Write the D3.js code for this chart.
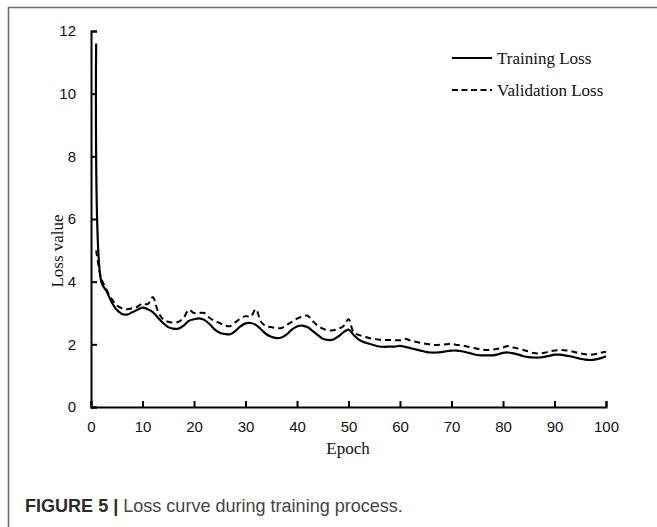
<!DOCTYPE html>
<html>
<head>
<meta charset="utf-8">
<script src="https://cdn.jsdelivr.net/npm/d3@7"></script>
<style>
  html, body { margin: 0; padding: 0; background: #fff; }
  svg { display: block; }
</style>
</head>
<body>
<svg id="chart" width="657" height="527"></svg>
<script>
// ---- data ----
const epochs = d3.range(1, 101);
const trainingLoss = [
  11.6, 4.0, 3.7, 3.35, 3.1, 2.97, 2.95, 3.02, 3.1, 3.17,
  3.12, 3.03, 2.85, 2.68, 2.55, 2.5, 2.5, 2.6, 2.75, 2.8,
  2.83, 2.78, 2.65, 2.48, 2.37, 2.33, 2.32, 2.42, 2.57, 2.67,
  2.68, 2.62, 2.48, 2.33, 2.24, 2.2, 2.22, 2.32, 2.47, 2.57,
  2.6, 2.55, 2.43, 2.3, 2.18, 2.14, 2.15, 2.25, 2.38, 2.47,
  2.3, 2.15, 2.07, 2.02, 1.97, 1.93, 1.92, 1.93, 1.93, 1.95,
  1.92, 1.88, 1.84, 1.8, 1.76, 1.74, 1.74, 1.75, 1.78, 1.8,
  1.8, 1.78, 1.74, 1.7, 1.66, 1.65, 1.65, 1.65, 1.68, 1.73,
  1.74, 1.71, 1.67, 1.62, 1.59, 1.58, 1.58, 1.6, 1.63, 1.67,
  1.67, 1.65, 1.62, 1.58, 1.54, 1.51, 1.5, 1.52, 1.56, 1.62
];
const validationLoss = [
  5.0, 4.1, 3.75, 3.45, 3.25, 3.15, 3.12, 3.15, 3.2, 3.3,
  3.28, 3.5, 3.05, 2.8, 2.72, 2.7, 2.72, 2.85, 3.1, 3.0,
  3.0, 3.0, 2.85, 2.75, 2.68, 2.6, 2.58, 2.7, 2.82, 2.9,
  2.88, 3.12, 2.72, 2.58, 2.55, 2.52, 2.52, 2.62, 2.72, 2.82,
  2.88, 2.92, 2.75, 2.6, 2.5, 2.45, 2.45, 2.5, 2.58, 2.8,
  2.38, 2.3, 2.25, 2.2, 2.17, 2.15, 2.14, 2.14, 2.13, 2.13,
  2.18, 2.12, 2.08, 2.05, 2.02, 1.99, 1.98, 1.99, 2.0, 2.02,
  1.98, 1.97, 1.93, 1.9, 1.86, 1.83, 1.82, 1.83, 1.86, 1.9,
  1.95, 1.9, 1.86, 1.82, 1.77, 1.72, 1.71, 1.73, 1.77, 1.8,
  1.82, 1.81, 1.79, 1.75, 1.71, 1.68, 1.67, 1.69, 1.73, 1.76
];
const xTicks = [0, 10, 20, 30, 40, 50, 60, 70, 80, 90, 100];
const yTicks = [0, 2, 4, 6, 8, 10, 12];
const seriesNames = ["Training Loss", "Validation Loss"];
const xTitle = "Epoch";
const yTitle = "Loss value";
const captionBold = "FIGURE 5 | ";
const captionText = "Loss curve during training process.";

// ---- layout ----
const svg = d3.select("#chart");
const mLeft = 91, mRight = 606, mTop = 31, mBottom = 407;

// frame (cropped panel border)
svg.append("path")
  .attr("d", "M8.5,530V7.5H660")
  .attr("fill", "none")
  .attr("stroke", "#6b6b6b")
  .attr("stroke-width", 1.5);

const x = d3.scaleLinear().domain([0, 100]).range([mLeft, mRight]);
const y = d3.scaleLinear().domain([0, 12]).range([mBottom, mTop]);

const axisFont = "'Liberation Sans', Arial, sans-serif";
const serif = "'Liberation Serif', 'Times New Roman', serif";

const gx = svg.append("g")
  .attr("transform", `translate(0,${mBottom})`)
  .call(d3.axisBottom(x).tickValues(xTicks).tickSizeInner(-6).tickSizeOuter(-6).tickPadding(14));
const gy = svg.append("g")
  .attr("transform", `translate(${mLeft},0)`)
  .call(d3.axisLeft(y).tickValues(yTicks).tickSizeInner(-6).tickSizeOuter(-6).tickPadding(15));

[gx, gy].forEach(g => {
  g.select(".domain").attr("stroke", "#000").attr("stroke-width", 2);
  g.selectAll(".tick line").attr("stroke", "#000").attr("stroke-width", 2);
  g.selectAll(".tick text")
    .attr("fill", "#111")
    .style("font-family", axisFont)
    .style("font-size", "15px");
});
gx.selectAll(".tick text").attr("dy", "0.71em");

// lines
const line = d3.line()
  .x((d, i) => x(epochs[i]))
  .y(d => y(d))
  .curve(d3.curveCatmullRom.alpha(0.5));

svg.append("path")
  .datum(validationLoss)
  .attr("d", line)
  .attr("fill", "none")
  .attr("stroke", "#000")
  .attr("stroke-width", 2)
  .attr("stroke-dasharray", "6,4");

svg.append("path")
  .datum(trainingLoss)
  .attr("d", line)
  .attr("fill", "none")
  .attr("stroke", "#000")
  .attr("stroke-width", 2.2);

// axis titles
svg.append("text")
  .attr("x", 348).attr("y", 454)
  .attr("text-anchor", "middle")
  .style("font-family", serif).style("font-size", "17px")
  .attr("fill", "#111")
  .text(xTitle);

svg.append("text")
  .attr("transform", "translate(63,251) rotate(-90)")
  .attr("text-anchor", "middle")
  .style("font-family", serif).style("font-size", "17px")
  .attr("fill", "#111")
  .text(yTitle);

// legend
const legend = svg.append("g");
const legY = [58, 90];
seriesNames.forEach((name, i) => {
  legend.append("line")
    .attr("x1", 452).attr("x2", 492)
    .attr("y1", legY[i]).attr("y2", legY[i])
    .attr("stroke", "#000").attr("stroke-width", 2)
    .attr("stroke-dasharray", i === 1 ? "6,3.5" : null);
  legend.append("text")
    .attr("x", 497).attr("y", legY[i] + 6)
    .style("font-family", serif).style("font-size", "17px")
    .attr("fill", "#111")
    .text(name);
});

// caption
const cap = svg.append("text")
  .attr("x", 25).attr("y", 512)
  .style("font-family", axisFont).style("font-size", "18px")
  .attr("fill", "#333");
cap.append("tspan").style("font-weight", "bold").attr("fill", "#2b2b2b").text(captionBold);
cap.append("tspan").attr("fill", "#444").text(captionText);
const w = cap.node().getComputedTextLength();
const targetW = 378;
if (w > 0) cap.style("font-size", (18 * targetW / w).toFixed(2) + "px");
</script>
</body>
</html>
